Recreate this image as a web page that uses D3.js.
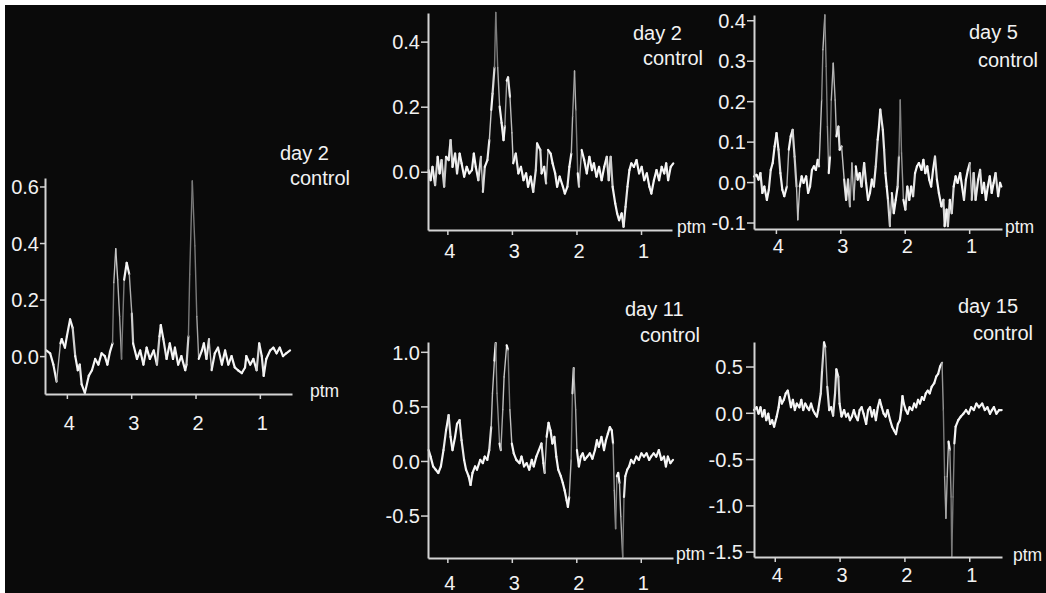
<!DOCTYPE html>
<html>
<head>
<meta charset="utf-8">
<style>
  body { margin: 0; background: #fff; }
  svg text { font-family: "Liberation Sans", Arial, Helvetica, sans-serif; fill: #f2f2f2; }
  .axis path, .axis line { stroke: #d4d4d4; }
  .axis path { stroke-width: 2px; }
  .axis line { stroke-width: 1.5px; }
  .axis text { font-size: 20px; }
  .tag { font-size: 20px; }
  .unit { font-size: 17.5px; }
</style>
</head>
<body>
<script src="https://d3js.org/d3.v7.min.js"></script>
<script>
// ---- data (ppm, intensity) ----
var xTicks = [4, 3, 2, 1];

var p1Ppm = [4.32,4.26,4.21,4.16,4.10,4.08,4.03,4.00,3.95,3.91,3.87,3.83,3.80,3.77,3.72,3.66,3.61,3.56,3.51,3.46,
  3.41,3.37,3.33,3.29,3.27,3.24,3.21,3.18,3.15,3.11,3.07,3.03,2.99,2.97,2.91,2.86,2.81,2.76,2.71,2.65,
  2.60,2.56,2.54,2.50,2.45,2.40,2.35,2.32,2.27,2.22,2.16,2.14,2.11,2.09,2.05,2.01,1.98,1.95,1.90,1.87,
  1.83,1.79,1.75,1.70,1.65,1.59,1.54,1.49,1.44,1.39,1.34,1.28,1.23,1.21,1.15,1.10,1.05,1.01,0.97,0.94,
  0.90,0.84,0.79,0.74,0.69,0.64,0.59,0.53];
var p1Val = [0.02,0.01,-0.03,-0.09,0.045,0.06,0.03,0.07,0.13,0.10,
  0.0,-0.05,-0.03,-0.10,-0.13,-0.07,-0.05,-0.01,-0.03,0.01,
  0.0,-0.03,0.015,0.045,0.26,0.38,0.27,0.14,-0.01,0.27,
  0.33,0.29,0.15,0.045,-0.01,0.02,-0.03,0.03,-0.01,0.02,
  -0.03,0.07,0.11,0.06,-0.01,0.045,-0.01,0.03,-0.03,0.0,
  -0.05,-0.03,0.07,0.29,0.62,0.39,0.14,-0.01,0.02,0.045,
  -0.01,0.06,-0.05,0.01,0.03,-0.03,0.02,-0.03,0.0,-0.04,
  -0.05,-0.06,-0.04,0.0,-0.03,-0.01,-0.05,0.045,0.0,-0.07,
  -0.01,0.02,0.03,0.01,0.03,0.0,0.01,0.02];
var p1Ticks = [0, 0.2, 0.4, 0.6];

var p2Ppm = [4.29,4.26,4.23,4.19,4.15,4.12,4.09,4.05,4.02,3.98,
  3.95,3.92,3.88,3.85,3.81,3.78,3.74,3.70,3.66,3.62,
  3.59,3.56,3.52,3.48,3.45,3.42,3.38,3.35,3.32,3.30,
  3.27,3.25,3.22,3.19,3.16,3.13,3.11,3.08,3.06,3.03,
  3.00,2.98,2.94,2.90,2.86,2.82,2.78,2.75,2.71,2.67,
  2.63,2.61,2.56,2.54,2.50,2.47,2.44,2.40,2.37,2.33,
  2.30,2.26,2.21,2.18,2.14,2.11,2.08,2.06,2.03,2.01,
  1.98,1.96,1.92,1.88,1.84,1.80,1.76,1.73,1.69,1.65,
  1.61,1.57,1.53,1.50,1.47,1.44,1.40,1.37,1.34,1.30,
  1.27,1.24,1.21,1.18,1.15,1.11,1.07,1.03,0.99,0.95,
  0.91,0.87,0.84,0.80,0.76,0.72,0.68,0.64,0.61,0.58,
  0.54,0.50];
var p2Val = [0.005,-0.026,0.015,-0.041,0.046,-0.005,0.036,-0.046,0.046,0.036,
  0.097,0.015,0.056,-0.005,0.056,0.026,-0.015,0.015,-0.005,0.005,
  0.056,0.015,-0.026,0.046,-0.062,0.015,0.036,0.097,0.19,0.24,
  0.32,0.49,0.32,0.20,0.15,0.097,0.14,0.28,0.29,0.23,
  0.12,0.026,0.056,-0.005,0.015,-0.026,-0.005,-0.046,-0.015,-0.062,
  0.005,0.087,0.067,-0.005,0.015,-0.036,0.067,0.056,0.026,-0.005,
  -0.046,-0.015,-0.046,-0.067,-0.046,0.015,0.056,0.17,0.31,0.19,
  -0.005,-0.046,0.067,0.036,-0.005,0.046,0.005,0.026,-0.015,0.015,
  -0.026,0.015,0.046,-0.026,0.046,-0.046,-0.097,-0.128,-0.149,-0.128,
  -0.169,-0.108,-0.046,0.005,0.026,0.015,0.036,-0.005,0.015,-0.026,
  -0.005,-0.046,-0.067,-0.026,0.005,-0.026,0.015,-0.005,0.026,-0.026,
  0.015,0.026];
var p2Ticks = [0, 0.2, 0.4];

var p3Ppm = [4.34,4.30,4.27,4.24,4.21,4.18,4.14,4.11,4.08,4.05,
  4.02,3.99,3.96,3.93,3.90,3.87,3.83,3.80,3.77,3.74,
  3.71,3.68,3.66,3.63,3.60,3.57,3.53,3.50,3.47,3.44,
  3.41,3.38,3.35,3.33,3.31,3.29,3.27,3.24,3.22,3.20,
  3.18,3.16,3.14,3.11,3.08,3.06,3.03,3.01,2.98,2.94,
  2.91,2.88,2.85,2.82,2.79,2.76,2.73,2.70,2.67,2.63,
  2.60,2.57,2.54,2.51,2.48,2.45,2.42,2.40,2.38,2.34,
  2.32,2.30,2.28,2.26,2.23,2.20,2.17,2.14,2.11,2.09,
  2.07,2.05,2.02,1.99,1.96,1.93,1.90,1.87,1.84,1.81,
  1.78,1.74,1.71,1.68,1.65,1.62,1.59,1.56,1.53,1.50,
  1.47,1.43,1.40,1.38,1.35,1.33,1.30,1.27,1.24,1.21,
  1.18,1.14,1.11,1.08,1.05,1.02,0.99,0.96,0.93,0.90,
  0.86,0.83,0.80,0.77,0.74,0.71,0.68,0.65,0.62,0.59,
  0.55,0.52,0.50];
var p3Val = [0.014,0.018,0.006,0.022,-0.027,-0.011,-0.044,-0.019,0.030,0.047,
  0.088,0.121,0.080,0.022,-0.019,-0.035,-0.011,0.080,0.113,0.129,
  0.063,-0.011,-0.093,-0.011,0.014,-0.002,0.014,-0.027,-0.011,0.030,
  0.039,0.030,0.055,0.039,0.121,0.203,0.327,0.413,0.286,0.137,
  0.022,0.063,0.203,0.294,0.203,0.113,0.137,0.080,0.088,0.006,
  -0.044,0.006,-0.060,0.047,-0.044,0.039,0.006,0.022,-0.011,0.047,
  -0.002,-0.044,-0.027,0.006,-0.011,0.039,0.105,0.137,0.179,0.129,
  0.080,0.022,-0.011,-0.044,-0.109,-0.027,-0.077,-0.044,-0.011,0.063,
  0.203,0.072,-0.044,-0.068,-0.011,-0.044,-0.011,-0.035,0.022,0.039,
  0.047,0.030,0.055,0.022,0.039,0.006,-0.011,0.030,0.063,0.006,
  -0.027,-0.060,-0.044,-0.109,-0.068,-0.109,-0.044,-0.077,-0.011,0.014,
  -0.002,0.022,-0.011,-0.044,0.006,0.030,0.047,-0.044,0.022,-0.044,
  0.006,0.030,-0.027,-0.002,-0.044,-0.011,0.014,-0.027,-0.002,0.022,
  -0.035,-0.002,-0.011];
var p3Ticks = [-0.1, 0, 0.1, 0.2, 0.3, 0.4];

var p4Ppm = [4.29,4.26,4.22,4.18,4.14,4.10,4.06,4.02,3.98,3.95,
  3.92,3.88,3.85,3.81,3.78,3.74,3.71,3.67,3.64,3.61,
  3.57,3.54,3.49,3.45,3.42,3.38,3.35,3.32,3.30,3.27,
  3.25,3.23,3.19,3.17,3.14,3.12,3.08,3.06,3.03,3.00,
  2.97,2.93,2.88,2.85,2.81,2.77,2.73,2.69,2.66,2.62,
  2.58,2.54,2.51,2.49,2.46,2.43,2.40,2.37,2.34,2.31,
  2.28,2.24,2.21,2.18,2.15,2.13,2.11,2.08,2.06,2.04,
  2.01,1.99,1.96,1.93,1.90,1.87,1.83,1.79,1.75,1.71,
  1.68,1.65,1.61,1.57,1.54,1.51,1.48,1.45,1.43,1.41,
  1.39,1.37,1.35,1.33,1.31,1.28,1.26,1.24,1.21,1.18,
  1.15,1.11,1.07,1.03,0.99,0.95,0.91,0.87,0.84,0.80,
  0.76,0.72,0.68,0.64,0.61,0.58,0.54,0.50];
var p4Val = [0.10,0.04,-0.05,-0.08,-0.11,-0.05,0.10,0.28,0.42,0.22,
  0.10,0.22,0.34,0.375,0.19,0.01,-0.08,-0.14,-0.22,-0.11,
  -0.05,-0.08,0.01,-0.02,0.04,0.01,0.10,0.31,0.62,0.92,
  1.08,0.62,0.16,0.10,0.47,0.77,1.06,1.02,0.47,0.16,
  0.07,0.01,-0.02,0.04,-0.05,-0.02,-0.08,0.01,-0.05,0.04,
  0.10,0.16,-0.02,-0.11,0.22,0.35,0.28,0.16,0.22,0.04,
  -0.08,-0.14,-0.20,-0.27,-0.36,-0.42,-0.33,0.01,0.62,0.85,
  0.47,0.10,-0.05,0.04,0.07,0.01,0.04,0.07,0.02,0.10,
  0.19,0.13,0.22,0.10,0.19,0.25,0.31,0.28,0.16,-0.27,
  -0.62,-0.14,-0.11,-0.20,-0.51,-0.88,-0.33,-0.14,-0.08,-0.05,
  0.01,-0.02,0.04,0.01,0.07,0.04,0.07,0.01,0.04,0.07,
  0.04,0.10,0.01,0.04,-0.05,0.04,-0.02,0.01];
var p4Ticks = [-0.5, 0, 0.5, 1.0];

var p5Ppm = [4.32,4.28,4.25,4.22,4.19,4.16,4.13,4.10,4.07,4.04,
  4.01,3.97,3.94,3.92,3.89,3.86,3.83,3.80,3.78,3.75,
  3.72,3.69,3.66,3.62,3.59,3.56,3.53,3.50,3.47,3.44,
  3.41,3.38,3.35,3.33,3.29,3.27,3.24,3.22,3.19,3.16,
  3.13,3.10,3.07,3.05,3.02,3.00,2.97,2.93,2.90,2.87,
  2.84,2.81,2.78,2.75,2.72,2.69,2.66,2.63,2.59,2.56,
  2.53,2.50,2.47,2.44,2.41,2.38,2.35,2.32,2.29,2.26,
  2.22,2.19,2.16,2.13,2.10,2.07,2.05,2.03,2.01,1.98,
  1.95,1.92,1.88,1.85,1.82,1.79,1.76,1.73,1.70,1.67,
  1.64,1.61,1.58,1.54,1.51,1.48,1.45,1.42,1.40,1.38,
  1.36,1.34,1.32,1.30,1.28,1.27,1.25,1.23,1.21,1.17,
  1.13,1.09,1.05,1.01,0.97,0.93,0.89,0.85,0.80,0.76,
  0.72,0.68,0.65,0.62,0.58,0.54,0.50];
var p5Val = [0.03,0.06,-0.01,0.06,-0.04,0.03,-0.08,-0.01,-0.12,-0.08,
  -0.15,-0.04,0.06,0.17,0.10,0.14,0.21,0.24,0.17,0.06,
  0.14,0.03,0.10,0.06,0.14,0.03,0.10,0.06,0.03,0.10,
  0.03,-0.01,-0.04,0.03,0.21,0.46,0.76,0.71,0.28,0.03,
  0.06,-0.03,0.21,0.47,0.39,0.10,-0.04,0.03,-0.04,-0.01,
  -0.08,-0.04,0.03,-0.04,-0.08,0.03,0.06,-0.01,-0.12,0.03,
  0.06,-0.04,0.03,-0.08,0.06,0.14,0.06,-0.01,-0.04,0.03,
  -0.08,-0.15,-0.19,-0.23,-0.12,-0.08,0.03,0.18,0.10,0.03,
  -0.01,0.06,0.03,0.10,0.06,0.14,0.10,0.17,0.14,0.21,
  0.24,0.21,0.28,0.32,0.39,0.42,0.50,0.54,0.03,-0.69,
  -1.14,-0.69,-0.31,-0.40,-0.91,-1.55,-0.91,-0.33,-0.15,-0.08,
  -0.04,-0.01,0.03,-0.01,0.06,0.03,0.10,0.06,0.10,0.03,
  0.06,-0.01,0.03,0.06,-0.01,0.03,0.03];
var p5Ticks = [-1.5, -1.0, -0.5, 0, 0.5];

// ---- layout of the five panels ----
var panels = [
  {ppm: p1Ppm, val: p1Val, yTicks: p1Ticks, day: "day 2",
   box: [45, 292, 178, 394], xDom: [4.34, 0.50], yDom: [-0.134, 0.63],
   yTick: [5, 1], xGap: 36, dayAt: [280, 160], ctlAt: [290, 185], unitAt: [310, 397]},
  {ppm: p2Ppm, val: p2Val, yTicks: p2Ticks, day: "day 2",
   box: [428, 672, 13, 230], xDom: [4.30, 0.52], yDom: [-0.179, 0.488],
   yTick: [7, 1], xGap: 28, dayAt: [633, 40], ctlAt: [643, 65], unitAt: [677, 233]},
  {ppm: p3Ppm, val: p3Val, yTicks: p3Ticks, day: "day 5",
   box: [754, 1002, 15, 229], xDom: [4.34, 0.49], yDom: [-0.116, 0.413],
   yTick: [7, 1], xGap: 24, dayAt: [969, 39], ctlAt: [978, 67], unitAt: [1005, 233]},
  {ppm: p4Ppm, val: p4Val, yTicks: p4Ticks, day: "day 11",
   box: [428, 673, 342, 558], xDom: [4.30, 0.50], yDom: [-0.889, 1.09],
   yTick: [7, 1], xGap: 32, dayAt: [625, 316], ctlAt: [640, 342], unitAt: [676, 560]},
  {ppm: p5Ppm, val: p5Val, yTicks: p5Ticks, day: "day 15",
   box: [754, 1002, 342, 557], xDom: [4.32, 0.495], yDom: [-1.558, 0.765],
   yTick: [8, 3], xGap: 25, dayAt: [958, 313], ctlAt: [973, 340], unitAt: [1013, 561]}
];

var width = 1046, height = 593;

var svg = d3.select("body")
    .append("svg")
    .attr("width", width)
    .attr("height", height);

svg.append("rect")
    .attr("x", 5).attr("y", 5)
    .attr("width", width - 5).attr("height", height - 5)
    .attr("fill", "#0a0a0a");

var fmt = function(d) { return d3.format(".1f")(d).replace("\u2212", "-"); };
// steep strokes of the scanned traces look thinner and greyer
var dim = d3.interpolateRgb("#f6f6f6", "#7a7a7a");

panels.forEach(function(p) {
  var x = d3.scaleLinear().domain(p.xDom).range([p.box[0], p.box[1]]);
  var y = d3.scaleLinear().domain(p.yDom).range([p.box[3], p.box[2]]);
  var g = svg.append("g");

  var pts = p.ppm.map(function(d, i) { return [x(d), y(p.val[i])]; });
  g.append("g")
    .selectAll("line")
    .data(d3.pairs(pts))
    .enter().append("line")
      .attr("x1", function(d) { return d[0][0]; })
      .attr("y1", function(d) { return d[0][1]; })
      .attr("x2", function(d) { return d[1][0]; })
      .attr("y2", function(d) { return d[1][1]; })
      .attr("stroke-linecap", "round")
      .attr("stroke", function(d) {
        var dy = Math.abs(d[1][1] - d[0][1]);
        return dim(Math.max(0, Math.min(1, (dy - 16) / 40)));
      })
      .attr("stroke-width", function(d) {
        return Math.abs(d[1][1] - d[0][1]) > 30 ? 1.4 : 2.2;
      });

  g.append("g")
      .attr("class", "axis")
      .attr("transform", "translate(" + p.box[0] + ",0)")
      .call(d3.axisLeft(y).tickValues(p.yTicks).tickFormat(fmt)
        .tickSize(p.yTick[0]).tickPadding(p.yTick[1]).tickSizeOuter(0))
    .selectAll("text")
      .attr("dy", "0.36em");

  g.append("g")
      .attr("class", "axis")
      .attr("transform", "translate(0," + p.box[3] + ")")
      .call(d3.axisBottom(x).tickValues(xTicks).tickFormat(d3.format("d"))
        .tickSize(5).tickPadding(p.xGap - 5 - 14.2).tickSizeOuter(0))
    .selectAll("text")
      .attr("dx", 2);

  g.append("text").attr("class", "tag")
      .attr("x", p.dayAt[0]).attr("y", p.dayAt[1]).text(p.day);
  g.append("text").attr("class", "tag")
      .attr("x", p.ctlAt[0]).attr("y", p.ctlAt[1]).text("control");
  g.append("text").attr("class", "unit")
      .attr("x", p.unitAt[0]).attr("y", p.unitAt[1]).text("ptm");
});
</script>
</body>
</html>
